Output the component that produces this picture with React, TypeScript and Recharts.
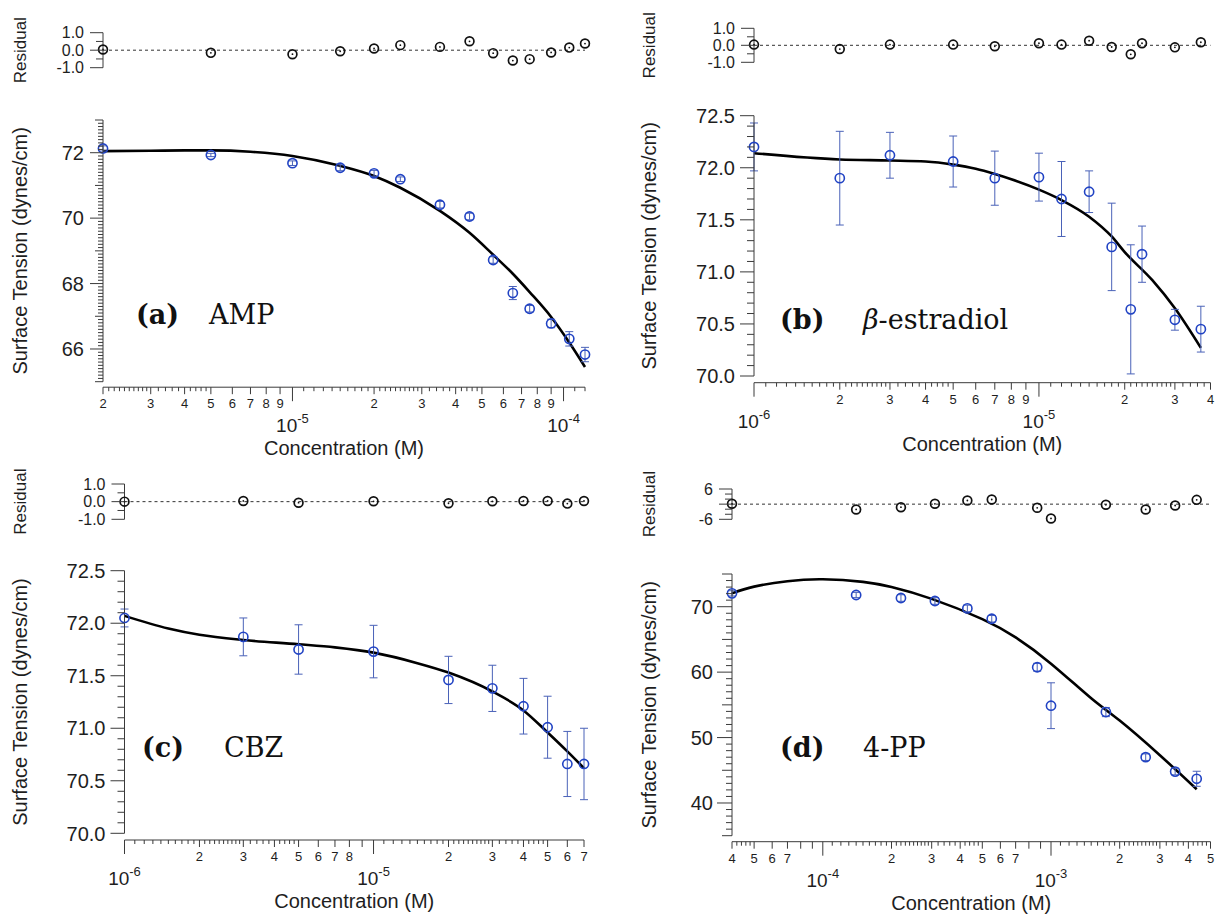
import React from "react";
import {
  ComposedChart,
  ErrorBar,
  Line,
  ReferenceLine,
  Scatter,
  XAxis,
  YAxis,
} from "recharts";

const SANS = "'Liberation Sans', Arial, sans-serif";
const SERIF = "'DejaVu Serif', serif";
const AXIS = "#3a3a3a";
const TEXT = "#1e1e1e";
const BLUE = "#2143c4";
const BAR = "#4a62b8";

// (a) AMP
const concA = [2e-6, 5e-6, 1e-5, 1.5e-5, 2e-5, 2.5e-5, 3.5e-5, 4.5e-5, 5.5e-5, 6.5e-5, 7.5e-5, 9e-5, 1.05e-4, 1.2e-4];
const tensionA = [72.13, 71.93, 71.68, 71.54, 71.37, 71.19, 70.41, 70.05, 68.72, 67.71, 67.23, 66.78, 66.31, 65.83];
const errA = [0.08, 0.05, 0.07, 0.09, 0.09, 0.07, 0.1, 0.1, 0.1, 0.2, 0.1, 0.13, 0.22, 0.22];
const residA = [0.04, -0.15, -0.23, -0.06, 0.1, 0.29, 0.19, 0.51, -0.17, -0.59, -0.51, -0.13, 0.15, 0.38];
const fitConcA = [2e-6, 3e-6, 4e-6, 5e-6, 7e-6, 1e-5, 1.5e-5, 2e-5, 2.5e-5, 3.5e-5, 4.5e-5, 5.5e-5, 6.5e-5, 7.5e-5, 9e-5, 1.05e-4, 1.2e-4];
const fitA = [72.05, 72.06, 72.07, 72.07, 72.03, 71.9, 71.6, 71.29, 70.93, 70.22, 69.55, 68.88, 68.3, 67.74, 66.98, 66.2, 65.45];

// (b) beta-estradiol
const concB = [1e-6, 2e-6, 3e-6, 5e-6, 7e-6, 1e-5, 1.2e-5, 1.5e-5, 1.8e-5, 2.1e-5, 2.3e-5, 3e-5, 3.7e-5];
const tensionB = [72.2, 71.9, 72.12, 72.06, 71.9, 71.91, 71.7, 71.77, 71.24, 70.64, 71.17, 70.54, 70.45];
const errB = [0.23, 0.45, 0.22, 0.245, 0.26, 0.23, 0.36, 0.2, 0.42, 0.62, 0.27, 0.1, 0.22];
const residB = [0.04, -0.22, 0.04, 0.04, -0.06, 0.12, 0.04, 0.27, -0.1, -0.53, 0.12, -0.12, 0.18];
const fitConcB = [1e-6, 2e-6, 3e-6, 4e-6, 5e-6, 6e-6, 7e-6, 8e-6, 1e-5, 1.2e-5, 1.5e-5, 1.8e-5, 2e-5, 2.5e-5, 3e-5, 3.7e-5];
const fitB = [72.14, 72.08, 72.07, 72.06, 72.03, 71.99, 71.94, 71.89, 71.79, 71.69, 71.53, 71.34, 71.19, 70.92, 70.65, 70.27];

// (c) CBZ
const concC = [1e-6, 3e-6, 5e-6, 1e-5, 2e-5, 3e-5, 4e-5, 5e-5, 6e-5, 7e-5];
const tensionC = [72.05, 71.87, 71.75, 71.73, 71.46, 71.38, 71.21, 71.01, 70.66, 70.66];
const errC = [0.085, 0.18, 0.235, 0.25, 0.225, 0.22, 0.265, 0.295, 0.31, 0.34];
const residC = [0.0, 0.04, -0.06, 0.02, -0.09, 0.02, 0.04, 0.04, -0.11, 0.04];
const fitConcC = [1e-6, 1.5e-6, 2e-6, 3e-6, 5e-6, 7e-6, 1e-5, 1.5e-5, 2e-5, 3e-5, 4e-5, 5e-5, 6e-5, 7e-5];
const fitC = [72.07, 71.95, 71.89, 71.84, 71.8, 71.77, 71.72, 71.62, 71.53, 71.35, 71.17, 70.96, 70.78, 70.62];

// (d) 4-PP
const concD = [4e-5, 1.4e-4, 2.2e-4, 3.1e-4, 4.3e-4, 5.5e-4, 8.7e-4, 1e-3, 1.74e-3, 2.6e-3, 3.5e-3, 4.35e-3];
const tensionD = [72.04, 71.79, 71.33, 70.87, 69.74, 68.16, 60.75, 54.87, 53.9, 47.0, 44.8, 43.7];
const errD = [0.4, 0.4, 0.5, 0.5, 0.5, 0.5, 0.6, 3.5, 0.7, 0.5, 0.5, 1.15];
const residD = [0.13, -2.1, -1.2, 0.13, 1.45, 1.84, -1.45, -5.66, -0.26, -2.1, -0.53, 1.7];
const fitConcD = [4e-5, 5e-5, 7e-5, 1e-4, 1.5e-4, 2e-4, 3e-4, 5e-4, 7e-4, 1e-3, 1.5e-3, 2e-3, 3e-3, 4.35e-3];
const fitD = [72.04, 73.07, 73.9, 74.19, 73.8, 73.0, 71.2, 68.1, 65.3, 61.3, 56.0, 52.6, 47.3, 42.1];

// tick labels left out on the log axes
const unlabeledC = [9e-6];
const unlabeledD = [8e-5, 9e-5, 8e-4, 9e-4];

type Row = { x: number; y: number; err: number };
const rows = (xs: number[], ys: number[], es?: number[]): Row[] =>
  xs.map((x, i) => ({ x, y: ys[i], err: es ? es[i] : 0 }));

const near = (a: number, b: number) => Math.abs(a - b) <= Math.abs(b) * 1e-6 + 1e-9;

// log axis ticks: decades, digits 2..9, and finer marks like Igor draws them
const SUBS: Record<number, number[]> = {
  1: [1.1, 1.2, 1.3, 1.4, 1.5, 1.6, 1.7, 1.8, 1.9],
  2: [2.1, 2.2, 2.3, 2.4, 2.5, 2.6, 2.7, 2.8, 2.9],
  3: [3.2, 3.4, 3.6, 3.8],
  4: [4.2, 4.4, 4.6, 4.8],
};
function logTicks(min: number, max: number) {
  const out: number[] = [];
  for (let e = Math.floor(Math.log10(min)); e <= Math.ceil(Math.log10(max)); e++) {
    for (let m = 1; m < 10; m++) {
      out.push(Number((m * Math.pow(10, e)).toPrecision(10)));
      (SUBS[m] || []).forEach((s) => out.push(Number((s * Math.pow(10, e)).toPrecision(10))));
    }
  }
  return out.filter((v) => v >= min * (1 - 1e-9) && v <= max * (1 + 1e-9)).sort((a, b) => a - b);
}
function linTicks(min: number, max: number, step: number) {
  const n = Math.round((max - min) / step);
  const out: number[] = [];
  for (let i = 0; i <= n; i++) out.push(Math.round((min + i * step) * 1000) / 1000);
  return out;
}

type YCfg = {
  domain: [number, number];
  ticks: number[];
  major: number[];
  mid: number[];
  labels: number[];
  lens: [number, number, number];
  fontSize: number;
  decimals: number;
};

const resSmall = (): YCfg => ({
  domain: [-1, 1],
  ticks: [-1, -0.5, 0, 0.5, 1],
  major: [-1, 0, 1],
  mid: [],
  labels: [-1, 0, 1],
  lens: [13, 7, 7],
  fontSize: 16,
  decimals: 1,
});

function makeYTick(c: YCfg) {
  return (props: any) => {
    const { x, y, payload } = props;
    const v = payload.value;
    const major = c.major.some((m) => near(v, m));
    const mid = c.mid.some((m) => near(v, m));
    const len = major ? c.lens[0] : mid ? c.lens[1] : c.lens[2];
    const lab = c.labels.some((m) => near(v, m));
    return (
      <g>
        <line x1={x - len} x2={x} y1={y} y2={y} stroke={AXIS} strokeWidth={1} />
        {lab && (
          <text x={x - 19} y={y} dy="0.36em" textAnchor="end" fontSize={c.fontSize} fontFamily={SANS} fill={TEXT}>
            {v.toFixed(c.decimals)}
          </text>
        )}
      </g>
    );
  };
}

type Panel = {
  left: number;
  width: number;
  plotLeft: number;
  plotRight: number;
  xDomain: [number, number];
  unlabeled: number[];
  gap: number;
  titleX: number;
  curve: "monotone" | "natural";
  res: { top: number; bottom: number; divTop: number; divH: number; y: YCfg; data: Row[] };
  main: { top: number; bottom: number; divTop: number; divH: number; y: YCfg; data: Row[]; fit: Row[] };
  tag: string;
  tagX: number;
  name: React.ReactNode;
  nameX: number;
  base: number;
};

function makeXTick(p: Panel) {
  return (props: any) => {
    const { x, y, payload } = props;
    const v = payload.value;
    const e = Math.floor(Math.log10(v) + 1e-9);
    const m = Math.round((v / Math.pow(10, e)) * 10) / 10;
    const y0 = y + p.gap;
    if (m === 1) {
      return (
        <g>
          <line x1={x} x2={x} y1={y0} y2={y0 + 14} stroke={AXIS} />
          <text x={x} y={y0 + 45} textAnchor="middle" fontSize={19} fontFamily={SANS} fill={TEXT}>
            10
            <tspan fontSize={13} dy={-9}>
              {e}
            </tspan>
          </text>
        </g>
      );
    }
    const digit = Number.isInteger(m);
    const lab = digit && !p.unlabeled.some((u) => near(v, u));
    return (
      <g>
        <line x1={x} x2={x} y1={y0} y2={y0 + (digit ? 7 : 4)} stroke={AXIS} />
        {lab && (
          <text x={x} y={y0 + 21} textAnchor="middle" fontSize={13} fontFamily={SANS} fill={TEXT}>
            {m}
          </text>
        )}
      </g>
    );
  };
}

const BlueRing = (props: any) => (
  <circle cx={props.cx} cy={props.cy} r={4.6} fill="none" stroke={BLUE} strokeWidth={1.6} />
);
const BlackRing = (props: any) => (
  <g>
    <circle cx={props.cx} cy={props.cy} r={4.4} fill="none" stroke="#111" strokeWidth={1.7} />
    <circle cx={props.cx} cy={props.cy} r={0.9} fill="#111" />
  </g>
);

const panels: Panel[] = [
  {
    left: 0, width: 600, plotLeft: 103, plotRight: 585, xDomain: [2e-6, 1.2e-4], unlabeled: [], gap: 5.5, titleX: 20, curve: "monotone",
    res: { top: 32.7, bottom: 67.7, divTop: 0, divH: 95, y: resSmall(), data: rows(concA, residA) },
    main: {
      top: 120, bottom: 381.7, divTop: 100, divH: 360,
      y: { domain: [65, 73], ticks: linTicks(65, 73, 0.1), major: [66, 68, 70, 72], mid: [65, 67, 69, 71, 73], labels: [66, 68, 70, 72], lens: [13, 8, 5], fontSize: 20, decimals: 0 },
      data: rows(concA, tensionA, errA), fit: rows(fitConcA, fitA),
    },
    tag: "(a)", tagX: 136, name: "AMP", nameX: 209, base: 324,
  },
  {
    left: 600, width: 616, plotLeft: 754, plotRight: 1210.5, xDomain: [1e-6, 4e-5], unlabeled: [], gap: 6.7, titleX: 649, curve: "monotone",
    res: { top: 28.3, bottom: 62.3, divTop: 0, divH: 95, y: resSmall(), data: rows(concB, residB) },
    main: {
      top: 115.7, bottom: 376, divTop: 95, divH: 360,
      y: { domain: [70, 72.5], ticks: linTicks(70, 72.5, 0.1), major: [70, 70.5, 71, 71.5, 72, 72.5], mid: [], labels: [70, 70.5, 71, 71.5, 72, 72.5], lens: [14, 7, 7], fontSize: 20, decimals: 1 },
      data: rows(concB, tensionB, errB), fit: rows(fitConcB, fitB),
    },
    tag: "(b)", tagX: 780,
    name: (
      <>
        <tspan fontStyle="italic">β</tspan>-estradiol
      </>
    ),
    nameX: 863, base: 329,
  },
  {
    left: 0, width: 600, plotLeft: 124.5, plotRight: 584, xDomain: [1e-6, 7e-5], unlabeled: unlabeledC, gap: 6.7, titleX: 20, curve: "monotone",
    res: { top: 484, bottom: 519.3, divTop: 460, divH: 90, y: resSmall(), data: rows(concC, residC) },
    main: {
      top: 570.7, bottom: 833.3, divTop: 550, divH: 364,
      y: { domain: [70, 72.5], ticks: linTicks(70, 72.5, 0.1), major: [70, 70.5, 71, 71.5, 72, 72.5], mid: [], labels: [70, 70.5, 71, 71.5, 72, 72.5], lens: [14, 7, 7], fontSize: 20, decimals: 1 },
      data: rows(concC, tensionC, errC), fit: rows(fitConcC, fitC),
    },
    tag: "(c)", tagX: 142, name: "CBZ", nameX: 224, base: 757,
  },
  {
    left: 600, width: 616, plotLeft: 732, plotRight: 1210.5, xDomain: [4e-5, 5e-3], unlabeled: unlabeledD, gap: 6, titleX: 649, curve: "natural",
    res: {
      top: 489, bottom: 519.3, divTop: 460, divH: 90,
      y: { domain: [-6, 6], ticks: [-6, -4, -2, 0, 2, 4, 6], major: [-6, 0, 6], mid: [], labels: [-6, 6], lens: [13, 7, 7], fontSize: 16, decimals: 0 },
      data: rows(concD, residD),
    },
    main: {
      top: 574, bottom: 835.7, divTop: 550, divH: 364,
      y: { domain: [35, 75], ticks: linTicks(35, 75, 1), major: [40, 50, 60, 70], mid: [35, 45, 55, 65, 75], labels: [40, 50, 60, 70], lens: [15, 10, 6], fontSize: 20, decimals: 0 },
      data: rows(concD, tensionD, errD), fit: rows(fitConcD, fitD),
    },
    tag: "(d)", tagX: 780, name: "4-PP", nameX: 863, base: 757,
  },
];

// axes keep a real size; margins are trimmed so the plot box lands where it should
const YW = 60;
const XH = 30;

function ResidualPlot({ p }: { p: Panel }) {
  const r = p.res;
  return (
    <div style={{ position: "absolute", left: p.left, top: r.divTop, width: p.width, height: r.divH }}>
      <ComposedChart
        width={p.width}
        height={r.divH}
        margin={{ left: p.plotLeft - p.left - YW, right: p.left + p.width - p.plotRight, top: r.top - r.divTop, bottom: r.divTop + r.divH - r.bottom }}
      >
        <XAxis type="number" dataKey="x" scale="log" domain={p.xDomain} hide />
        <YAxis
          type="number"
          scale="linear"
          domain={r.y.domain}
          ticks={r.y.ticks}
          interval={0}
          width={YW}
          tickSize={0}
          tickMargin={0}
          tickLine={false}
          axisLine={{ stroke: AXIS }}
          tick={makeYTick(r.y)}
        />
        <ReferenceLine y={0} stroke="#333" strokeDasharray="3 3" />
        <Scatter data={r.data} dataKey="y" shape={BlackRing} isAnimationActive={false} />
      </ComposedChart>
    </div>
  );
}

function MainPlot({ p }: { p: Panel }) {
  const m = p.main;
  return (
    <div style={{ position: "absolute", left: p.left, top: m.divTop, width: p.width, height: m.divH }}>
      <ComposedChart
        width={p.width}
        height={m.divH}
        margin={{ left: p.plotLeft - p.left - YW, right: p.left + p.width - p.plotRight, top: m.top - m.divTop, bottom: m.divTop + m.divH - m.bottom - XH }}
      >
        <XAxis
          type="number"
          dataKey="x"
          scale="log"
          domain={p.xDomain}
          ticks={logTicks(p.xDomain[0], p.xDomain[1])}
          interval={0}
          height={XH}
          tickSize={0}
          tickMargin={0}
          tickLine={false}
          axisLine={{ stroke: AXIS, transform: `translate(0 ${p.gap})` }}
          tick={makeXTick(p)}
        />
        <YAxis
          type="number"
          scale="linear"
          domain={m.y.domain}
          ticks={m.y.ticks}
          interval={0}
          width={YW}
          tickSize={0}
          tickMargin={0}
          tickLine={false}
          axisLine={{ stroke: AXIS }}
          tick={makeYTick(m.y)}
        />
        <Line data={m.fit} dataKey="y" type={p.curve} stroke="#000" strokeWidth={2.6} dot={false} isAnimationActive={false} />
        <Scatter data={m.data} dataKey="y" shape={BlueRing} isAnimationActive={false}>
          <ErrorBar dataKey="err" direction="y" width={4} stroke={BAR} strokeWidth={1} />
        </Scatter>
      </ComposedChart>
    </div>
  );
}

function Titles({ p }: { p: Panel }) {
  const r = p.res;
  const m = p.main;
  return (
    <g fontFamily={SANS} fill={TEXT}>
      <text transform={`translate(${p.titleX} ${(r.top + r.bottom) / 2}) rotate(-90)`} textAnchor="middle" dy="0.35em" fontSize={17}>
        Residual
      </text>
      <text transform={`translate(${p.titleX} ${(m.top + m.bottom) / 2}) rotate(-90)`} textAnchor="middle" dy="0.35em" fontSize={20}>
        Surface Tension (dynes/cm)
      </text>
      <text x={(p.plotLeft + p.plotRight) / 2} y={m.bottom + p.gap + 61} dy="0.35em" textAnchor="middle" fontSize={20}>
        Concentration (M)
      </text>
      <text x={p.tagX} y={p.base} fontFamily={SERIF} fontWeight="bold" fontSize={27} fill="#111">
        {p.tag}
      </text>
      <text x={p.nameX} y={p.base} fontFamily={SERIF} fontSize={27} fill="#111">
        {p.name}
      </text>
    </g>
  );
}

export default function App() {
  return (
    <div style={{ position: "absolute", left: 0, top: 0, width: 1216, height: 914, background: "#fff", overflow: "hidden" }}>
      <style>{".recharts-surface{overflow:visible}"}</style>
      {panels.map((p, i) => (
        <React.Fragment key={i}>
          <ResidualPlot p={p} />
          <MainPlot p={p} />
        </React.Fragment>
      ))}
      <svg width={1216} height={914} style={{ position: "absolute", left: 0, top: 0, pointerEvents: "none" }}>
        {panels.map((p, i) => (
          <Titles key={i} p={p} />
        ))}
      </svg>
    </div>
  );
}
